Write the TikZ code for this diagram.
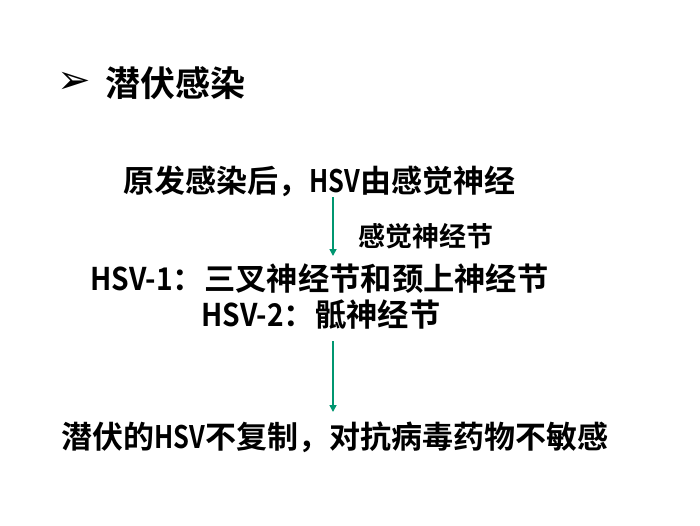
\documentclass[tikz,border=0pt]{standalone}
\usepackage{fontspec}
\setmainfont{Noto Sans CJK SC}[BoldFont={Noto Sans CJK SC Bold}]
\newfontfamily\symfont{DejaVu Sans}
\newcommand\nar[1]{\scalebox{0.82}[1]{#1}}
\newcommand\narb[1]{\scalebox{0.9}[1]{#1}}
\definecolor{arrowteal}{RGB}{0,150,112}
\usetikzlibrary{arrows.meta}
\begin{document}
\begin{tikzpicture}[x=1pt,y=-1pt,
  txt/.style={anchor=west,inner sep=0pt,font=\bfseries\fontsize{31}{31}\selectfont},
  txtb/.style={anchor=west,inner sep=0pt,font=\bfseries\fontsize{31.3}{31.3}\selectfont},
  flow/.style={draw=arrowteal,line width=1.6pt,-{Triangle[length=7pt,width=7pt]}}]
\useasboundingbox (0,0) rectangle (700,525);
\node[inner sep=0pt,font=\symfont\fontsize{40}{40}\selectfont] (bul) at (74,83) {➢};
\node[txt,font=\bfseries\fontsize{35}{35}\selectfont] (title) at (105,83) {潜伏感染};
\node[txt] (l1) at (123,181) {原发感染后，\nar{HSV}由感觉神经};
\node[txt,font=\bfseries\fontsize{27}{27}\selectfont] (lab) at (358,236) {感觉神经节};
\node[txtb] (l2) at (90,279) {\narb{HSV-1}：三叉神经节和颈上神经节};
\node[txtb] (l3) at (201,315) {\narb{HSV-2}：骶神经节};
\node[txt] (l4) at (61,437) {潜伏的\nar{HSV}不复制，对抗病毒药物不敏感};
\coordinate (a1s) at (333,197);
\coordinate (a1e) at (333,256);
\coordinate (a2s) at (333,341);
\coordinate (a2e) at (333,412);
\draw[flow] (a1s) -- (a1e);
\draw[flow] (a2s) -- (a2e);
\end{tikzpicture}
\end{document}
